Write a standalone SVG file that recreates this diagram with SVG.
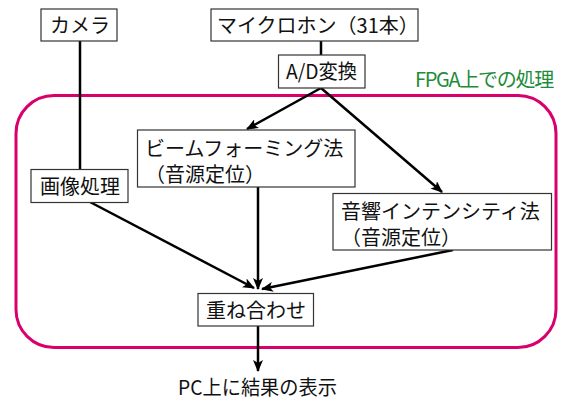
<svg xmlns="http://www.w3.org/2000/svg" width="562" height="400" viewBox="0 0 562 400">
<style>
text{font-family:"Noto Sans CJK JP","Noto Sans",sans-serif;font-size:20px;fill:#111}
.box{fill:#fff;stroke:#333;stroke-width:1.2}
.c{fill:none;stroke:#000;stroke-width:2.5}
.fpga{fill:none;stroke:#d9006c;stroke-width:3}
.g{fill:#1e8c3a}
</style>
<defs>
<marker id="ah" viewBox="0 0 12 10" refX="11" refY="5" markerWidth="12" markerHeight="10" markerUnits="userSpaceOnUse" orient="auto">
<path d="M0,0 L12,5 L0,10 L3,5 Z" fill="#000"/>
</marker>
</defs>
<rect id="fpga" class="fpga" x="16" y="95.5" width="540" height="252" rx="38" ry="38"/>
<text class="g" x="415" y="87" letter-spacing="-1.3">FPGA上での処理</text>
<g id="connectors">
<line class="c" x1="80" y1="41" x2="80" y2="169"/>
<line class="c" x1="321" y1="41" x2="321" y2="55"/>
<line class="c" x1="321" y1="88" x2="247" y2="129" marker-end="url(#ah)"/>
<line class="c" x1="321" y1="88" x2="442" y2="192" marker-end="url(#ah)"/>
<line class="c" x1="90" y1="202" x2="254" y2="288" marker-end="url(#ah)"/>
<line class="c" x1="258" y1="187" x2="258" y2="289" marker-end="url(#ah)"/>
<line class="c" x1="453" y1="250" x2="262" y2="289" marker-end="url(#ah)"/>
<line class="c" x1="258" y1="326" x2="258" y2="371" marker-end="url(#ah)"/>
</g>
<g id="camera"><rect class="box" x="41" y="9" width="76" height="32"/><text x="50" y="33">カメラ</text></g>
<g id="mic"><rect class="box" x="211" y="9" width="207" height="32"/><text x="217" y="33">マイクロホン（31本）</text></g>
<g id="ad"><rect class="box" x="278.5" y="55" width="86.5" height="33"/><text x="286" y="79" textLength="71" lengthAdjust="spacingAndGlyphs">A/D変換</text></g>
<g id="image"><rect class="box" x="31" y="169.5" width="97" height="33"/><text x="40" y="194">画像処理</text></g>
<g id="beam"><rect class="box" x="137.5" y="130" width="217.5" height="57"/><text x="145" y="156">ビームフォーミング法<tspan x="145" dy="25.5">（音源定位）</tspan></text></g>
<g id="intensity"><rect class="box" x="333" y="193.5" width="218.5" height="56.5"/><text x="341" y="219">音響インテンシティ法<tspan x="341" dy="25.5">（音源定位）</tspan></text></g>
<g id="overlay"><rect class="box" x="198" y="293.5" width="115.5" height="32.5"/><text x="206" y="318">重ね合わせ</text></g>
<g id="pc"><text x="178" y="395" textLength="159" lengthAdjust="spacingAndGlyphs">PC上に結果の表示</text></g>
</svg>
